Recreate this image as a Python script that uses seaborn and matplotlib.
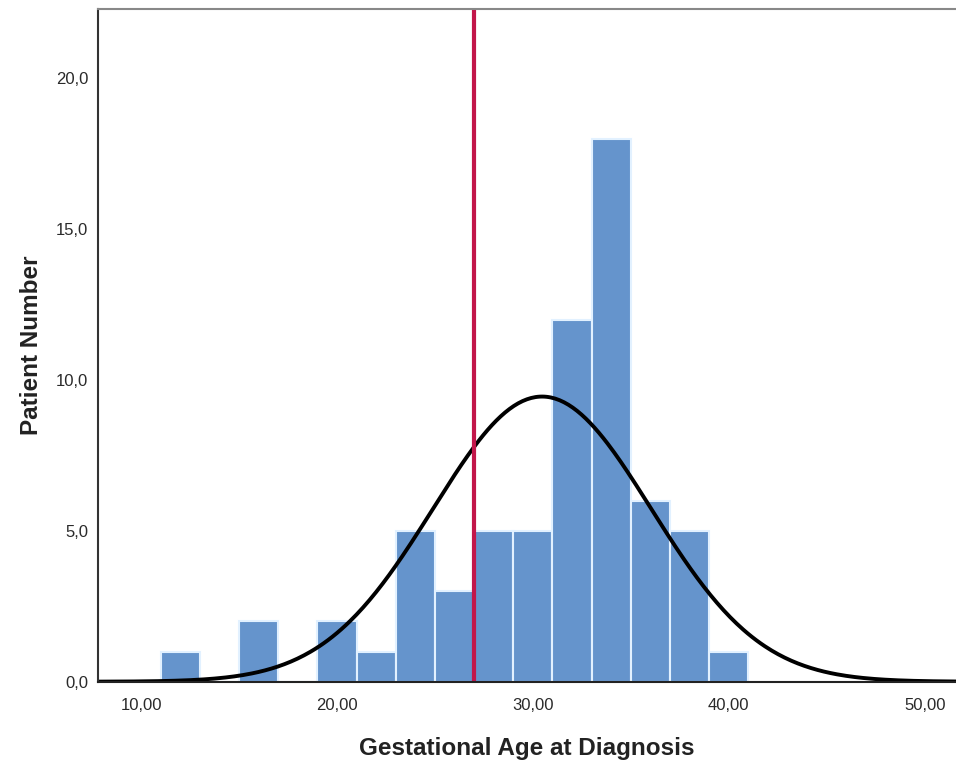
import numpy as np
import pandas as pd
import seaborn as sns
import matplotlib.pyplot as plt

# histogram bins (weeks) and patient counts per bin
bin_edges = [11, 13, 15, 17, 19, 21, 23, 25, 27, 29, 31, 33, 35, 37, 39, 41]
bin_counts = [1, 0, 2, 0, 2, 1, 5, 3, 5, 5, 12, 18, 6, 5, 1]

# fitted normal curve parameters
n_patients = 66
fit_mean = 30.47
fit_sd = 5.57

cutoff = 27.0

x_ticks = [10, 20, 30, 40, 50]
x_tick_labels = ["10,00", "20,00", "30,00", "40,00", "50,00"]
y_ticks = [0, 5, 10, 15, 20]
y_tick_labels = ["0,0", "5,0", "10,0", "15,0", "20,0"]

sns.set_style("white")
plt.rcParams['font.family'] = ['Liberation Sans', 'DejaVu Sans']

centers = [(a + b) / 2 for a, b in zip(bin_edges[:-1], bin_edges[1:])]
df = pd.DataFrame({"age": centers, "count": bin_counts})

fig = plt.figure(figsize=(9.56, 7.6), dpi=100)
ax = fig.add_axes([0.1025, 0.103, 0.8975, 0.885])

sns.histplot(data=df, x="age", weights="count", bins=bin_edges, ax=ax,
             color="#6594CC", edgecolor="#E2F1FF", linewidth=1.5, alpha=1.0)

bw = bin_edges[1] - bin_edges[0]
xs = np.linspace(7.5, 52, 400)
ys = n_patients * bw * np.exp(-0.5 * ((xs - fit_mean) / fit_sd) ** 2) / (fit_sd * np.sqrt(2 * np.pi))
sns.lineplot(x=xs, y=ys, ax=ax, color="black", linewidth=2.8)

ax.axvline(cutoff, color="#C2164A", linewidth=3)

ax.set_xlim(7.8, 51.6)
ax.set_ylim(0, 22.3)
ax.set_xticks(x_ticks)
ax.set_xticklabels(x_tick_labels)
ax.set_yticks(y_ticks)
ax.set_yticklabels(y_tick_labels)
ax.tick_params(axis="both", length=0, labelsize=12, colors="#2a2a2a")
ax.tick_params(axis="x", pad=12)
ax.tick_params(axis="y", pad=7)

ax.set_xlabel("Gestational Age at Diagnosis", fontsize=17.5, fontweight="bold",
              color="#222222", labelpad=17)
ax.set_ylabel("Patient Number", fontsize=17.5, fontweight="bold",
              color="#222222", labelpad=9)

ax.spines["left"].set_color("#333333")
ax.spines["left"].set_linewidth(1.5)
ax.spines["bottom"].set_color("#222222")
ax.spines["bottom"].set_linewidth(1.5)
ax.spines["top"].set_color("#888888")
ax.spines["top"].set_linewidth(1.5)
ax.spines["right"].set_visible(False)

fig.savefig("out.png", dpi=100)
